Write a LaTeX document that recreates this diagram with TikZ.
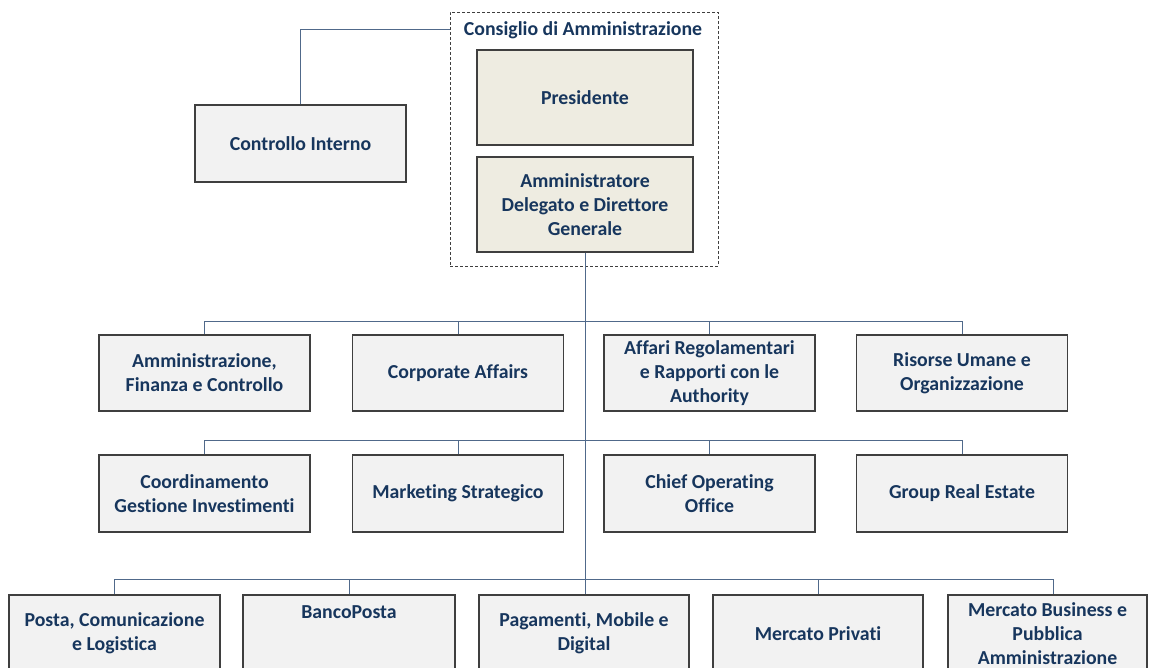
\documentclass[tikz,border=0pt]{standalone}
\usepackage{fontspec}
\setmainfont{Carlito}[Ligatures=NoCommon]
\definecolor{txt}{HTML}{17365D}
\definecolor{boxfill}{HTML}{F2F2F2}
\definecolor{beige}{HTML}{EEECE1}
\definecolor{edge}{HTML}{3F3F3F}
\definecolor{conncol}{HTML}{50698A}
\tikzset{
  orgfont/.style={font=\fontsize{19.8}{24}\selectfont\bfseries},
  orgbox/.style={draw=edge, line width=1.2pt, fill=boxfill, text=txt, orgfont, align=center, minimum width=211pt, minimum height=77pt, inner sep=2pt},
  topbox/.style={orgbox, fill=beige, minimum width=216pt, minimum height=95pt},
  conn/.style={draw=conncol, line width=1pt},
  dashbox/.style={draw=edge, line width=0.9pt, dash pattern=on 3pt off 2pt, minimum width=268pt, minimum height=254pt}
}
\begin{document}
\begin{tikzpicture}[x=1pt,y=-1pt]
\useasboundingbox (0,0) rectangle (1150,668);
% board
\node[dashbox] (cdabox) at (584,139) {};
\node[text=txt, orgfont, inner sep=0pt] (cdalabel) at (583,30) {Consiglio di Amministrazione};
\node[topbox] (pres) at (585,97.5) {Presidente};
\node[topbox] (ad) at (585,204.5) {Amministratore\\Delegato e Direttore\\Generale};
\node[orgbox] (ci) at (300.5,143.5) {Controllo Interno};
\draw[conn] (ci.north) |- (cdabox.west |- cdalabel.center);
% row 1
\node[orgbox, minimum height=76pt] (a1) at (204.5,373) {Amministrazione,\\Finanza e Controllo};
\node[orgbox, minimum height=76pt] (a2) at (458,373) {Corporate Affairs};
\node[orgbox, minimum height=76pt] (a3) at (709.5,373) {Affari Regolamentari\\e Rapporti con le\\Authority};
\node[orgbox, minimum height=76pt] (a4) at (962,373) {Risorse Umane e\\Organizzazione};
% row 2
\node[orgbox] (b1) at (204.5,493.5) {Coordinamento\\Gestione Investimenti};
\node[orgbox] (b2) at (458,493.5) {Marketing Strategico};
\node[orgbox] (b3) at (709.5,493.5) {Chief Operating\\Office};
\node[orgbox] (b4) at (962,493.5) {Group Real Estate};
% row 3
\node[orgbox] (c1) at (114.5,633.5) {Posta, Comunicazione\\e Logistica};
\node[orgbox, minimum width=212pt] (c2) at (349,633.5) {BancoPosta\\[-0.3em]~\\~};
\node[orgbox, minimum width=210pt] (c3) at (584,633.5) {Pagamenti, Mobile e\\Digital};
\node[orgbox, minimum width=210pt] (c4) at (818,633.5) {Mercato Privati};
\node[orgbox, minimum width=199pt] (c5) at (1047.5,633.5) {Mercato Business e\\Pubblica\\Amministrazione};
% connectors
\draw[conn] (ad.south) -- (ad.south |- c3.north);
\draw[conn] (a1.north) -- ++(0,-13) -| (a4.north);
\draw[conn] (a2.north) -- ++(0,-13);
\draw[conn] (a3.north) -- ++(0,-13);
\draw[conn] (b1.north) -- ++(0,-14) -| (b4.north);
\draw[conn] (b2.north) -- ++(0,-14);
\draw[conn] (b3.north) -- ++(0,-14);
\draw[conn] (c1.north) -- ++(0,-15) -| ([xshift=5.5pt]c5.north);
\draw[conn] (c2.north) -- ++(0,-15);
\draw[conn] (c4.north) -- ++(0,-15);
\end{tikzpicture}
\end{document}
